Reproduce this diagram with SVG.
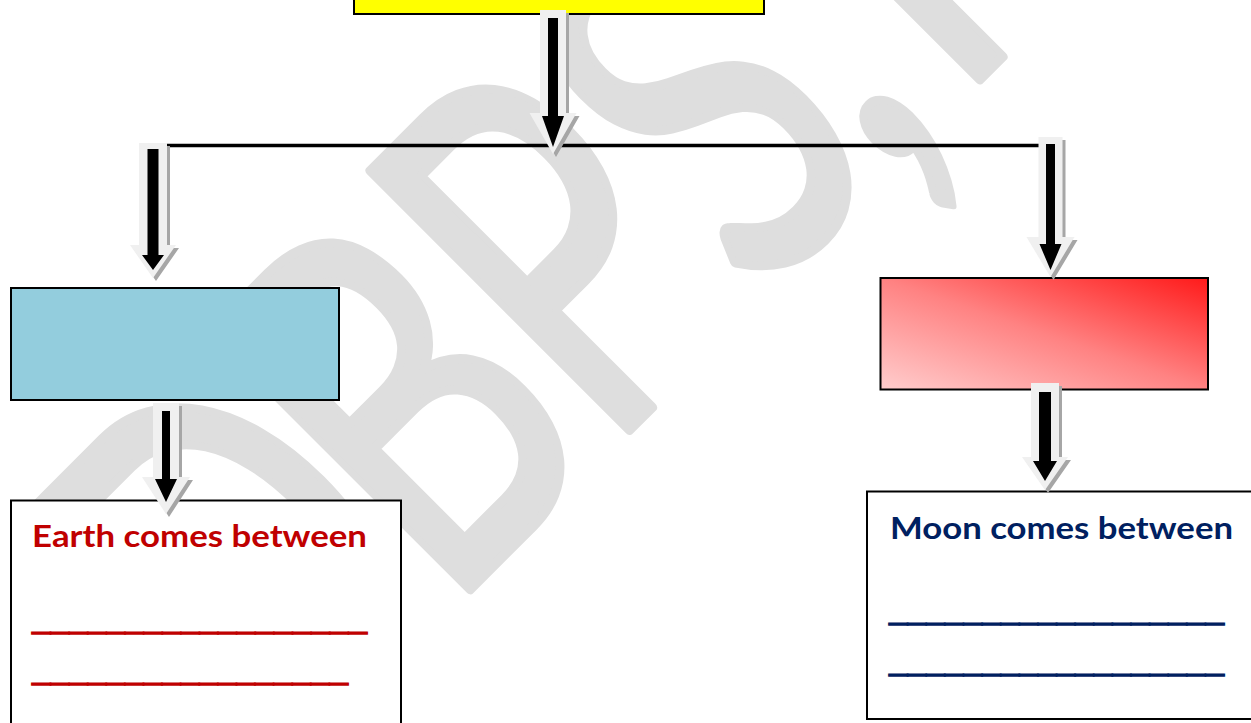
<svg xmlns="http://www.w3.org/2000/svg" width="1251" height="723" viewBox="0 0 1251 723">
<style>
.box{stroke:#000;stroke-width:2}
.wm{font-family:Lato,"Open Sans",sans-serif;font-weight:400;fill:#dedede;stroke:#dedede;stroke-width:10;stroke-linejoin:round}
.lbl{font-family:Lato,"Open Sans","Liberation Sans",sans-serif;font-weight:bold;font-size:30px}
.ul{font-family:"Liberation Sans",Arial,sans-serif;font-weight:bold;font-size:44px;stroke-width:1.6}
.red{fill:#c00000}
.navy{fill:#002060}
.ul.red{stroke:#c00000}
.ul.navy{stroke:#002060}
.shadow{fill:#a6a6a6}
.aout{fill:#f0f0f0}
.ain{fill:#000}
</style>
<defs>
<linearGradient id="redgrad" x1="0" y1="1" x2="1" y2="0">
<stop offset="0" stop-color="#ffcdcd"/>
<stop offset="0.5" stop-color="#ff8282"/>
<stop offset="1" stop-color="#ff1a1a"/>
</linearGradient>
</defs>
<rect width="1251" height="723" fill="#fff"/>
<g id="watermark" transform="rotate(-45) scale(0.7 1)">
<text class="wm" font-size="511" x="-523 -169 153 459 714 861" y="749">DBPS,I</text>
</g>
<g id="top-node"><rect class="box" x="354" y="-20" width="410" height="34" fill="#ffff00"/></g>
<g id="left-node"><rect class="box" x="11" y="288" width="328" height="112" fill="#93cddd"/></g>
<g id="right-node"><rect class="box" x="880.5" y="278" width="327.5" height="111.5" fill="url(#redgrad)"/></g>
<g id="left-answer">
<rect class="box" x="11" y="500.5" width="390" height="240" fill="#fff"/>
<text class="lbl red" x="32" y="547" textLength="335" lengthAdjust="spacingAndGlyphs">Earth comes between</text>
<text class="ul red" x="32" y="629.3" textLength="335" lengthAdjust="spacingAndGlyphs">__________________</text>
<text class="ul red" x="32" y="680.3" textLength="316" lengthAdjust="spacingAndGlyphs">_________________</text>
</g>
<g id="right-answer">
<rect class="box" x="867" y="491.5" width="400" height="227.5" fill="#fff"/>
<text class="lbl navy" x="890" y="539" textLength="343" lengthAdjust="spacingAndGlyphs">Moon comes between</text>
<text class="ul navy" x="889" y="620.3" textLength="335" lengthAdjust="spacingAndGlyphs">__________________</text>
<text class="ul navy" x="889" y="671.3" textLength="335" lengthAdjust="spacingAndGlyphs">__________________</text>
</g>
<g id="connectors">
<line x1="166" y1="145.5" x2="1042" y2="145.5" stroke="#000" stroke-width="3.5"/>
<g id="arrow-center">
<polygon class="shadow" transform="translate(3 3)" points="540,10 566,10 566,113 576.5,113 553,154 529.5,113 540,113"/>
<polygon class="aout" points="540,10 566,10 566,113 576.5,113 553,154 529.5,113 540,113"/>
<polygon class="ain" points="548,18 558,18 558,116 564,116 553,147 542,116 548,116"/>
</g>
<g id="arrow-left">
<polygon class="shadow" transform="translate(3 3)" points="139,143 167,143 167,245 176,245 153,278 130,245 139,245"/>
<polygon class="aout" points="139,143 167,143 167,245 176,245 153,278 130,245 139,245"/>
<polygon class="ain" points="147.5,149 158.5,149 158.5,255 164,255 153,270 142,255 147.5,255"/>
</g>
<g id="arrow-right">
<polygon class="shadow" transform="translate(3 3)" points="1038.5,137 1062.5,137 1062.5,237 1074.5,237 1050.5,277 1026.5,237 1038.5,237"/>
<polygon class="aout" points="1038.5,137 1062.5,137 1062.5,237 1074.5,237 1050.5,277 1026.5,237 1038.5,237"/>
<polygon class="ain" points="1046,144 1055,144 1055,244 1061.5,244 1050.5,270 1039.5,244 1046,244"/>
</g>
<g id="arrow-bottom-left">
<polygon class="shadow" transform="translate(3 3)" points="153,403 179,403 179,477 190,477 166,514 142,477 153,477"/>
<polygon class="aout" points="153,403 179,403 179,477 190,477 166,514 142,477 153,477"/>
<polygon class="ain" points="162,411 170,411 170,479 177,479 166,502 155,479 162,479"/>
</g>
<g id="arrow-bottom-right">
<polygon class="shadow" transform="translate(3 3)" points="1031,383 1059,383 1059,457 1068,457 1045,490 1022,457 1031,457"/>
<polygon class="aout" points="1031,383 1059,383 1059,457 1068,457 1045,490 1022,457 1031,457"/>
<polygon class="ain" points="1039,392 1051,392 1051,461 1057,461 1045,481 1033,461 1039,461"/>
</g>
</g>
</svg>
